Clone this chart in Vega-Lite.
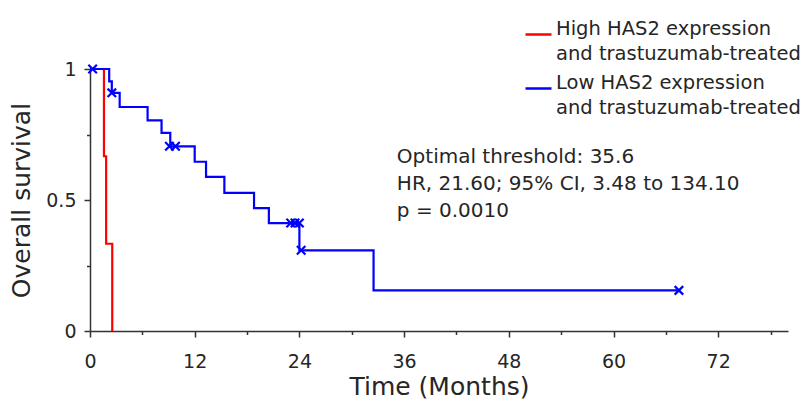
{
  "$schema": "https://vega.github.io/schema/vega-lite/v6.json",
  "width": 698,
  "height": 262,
  "autosize": {"type": "none"},
  "padding": {"left": 90, "top": 69, "right": 18, "bottom": 69},
  "background": "white",
  "config": {
    "view": {"stroke": null},
    "font": "DejaVu Sans",
    "axis": {
      "domainColor": "#333333",
      "tickColor": "#333333",
      "labelColor": "#262626",
      "titleColor": "#262626",
      "labelFont": "DejaVu Sans",
      "titleFont": "DejaVu Sans",
      "labelFontSize": 19,
      "titleFontSize": 25,
      "titleFontWeight": "normal",
      "domainWidth": 1.5,
      "tickWidth": 1.5,
      "grid": false
    },
    "legend": {
      "labelFont": "DejaVu Sans",
      "labelFontSize": 19.5,
      "labelColor": "#262626"
    },
    "style": {"guide-label": {"lineHeight": 25}}
  },
  "datasets": {
    "curves": [
      {"group": "High HAS2 expression and trastuzumab-treated", "time": 0, "survival": 1},
      {"group": "High HAS2 expression and trastuzumab-treated", "time": 1.6, "survival": 0.667},
      {"group": "High HAS2 expression and trastuzumab-treated", "time": 1.85, "survival": 0.333},
      {"group": "High HAS2 expression and trastuzumab-treated", "time": 2.55, "survival": 0},
      {"group": "Low HAS2 expression and trastuzumab-treated", "time": 0, "survival": 1},
      {"group": "Low HAS2 expression and trastuzumab-treated", "time": 2.2, "survival": 0.953},
      {"group": "Low HAS2 expression and trastuzumab-treated", "time": 2.5, "survival": 0.909},
      {"group": "Low HAS2 expression and trastuzumab-treated", "time": 3.4, "survival": 0.855},
      {"group": "Low HAS2 expression and trastuzumab-treated", "time": 6.6, "survival": 0.804},
      {"group": "Low HAS2 expression and trastuzumab-treated", "time": 8.2, "survival": 0.756},
      {"group": "Low HAS2 expression and trastuzumab-treated", "time": 9.2, "survival": 0.705},
      {"group": "Low HAS2 expression and trastuzumab-treated", "time": 12.0, "survival": 0.646},
      {"group": "Low HAS2 expression and trastuzumab-treated", "time": 13.3, "survival": 0.588},
      {"group": "Low HAS2 expression and trastuzumab-treated", "time": 15.4, "survival": 0.527},
      {"group": "Low HAS2 expression and trastuzumab-treated", "time": 18.8, "survival": 0.469},
      {"group": "Low HAS2 expression and trastuzumab-treated", "time": 20.5, "survival": 0.412},
      {"group": "Low HAS2 expression and trastuzumab-treated", "time": 24.0, "survival": 0.308},
      {"group": "Low HAS2 expression and trastuzumab-treated", "time": 32.5, "survival": 0.155},
      {"group": "Low HAS2 expression and trastuzumab-treated", "time": 67.5, "survival": 0.155}
    ],
    "censored": [
      {"group": "Low HAS2 expression and trastuzumab-treated", "time": 0.3, "survival": 1},
      {"group": "Low HAS2 expression and trastuzumab-treated", "time": 2.5, "survival": 0.909},
      {"group": "Low HAS2 expression and trastuzumab-treated", "time": 9.1, "survival": 0.705},
      {"group": "Low HAS2 expression and trastuzumab-treated", "time": 9.8, "survival": 0.705},
      {"group": "Low HAS2 expression and trastuzumab-treated", "time": 23.0, "survival": 0.412},
      {"group": "Low HAS2 expression and trastuzumab-treated", "time": 23.5, "survival": 0.412},
      {"group": "Low HAS2 expression and trastuzumab-treated", "time": 24.0, "survival": 0.412},
      {"group": "Low HAS2 expression and trastuzumab-treated", "time": 24.2, "survival": 0.308},
      {"group": "Low HAS2 expression and trastuzumab-treated", "time": 67.5, "survival": 0.155}
    ],
    "annotation": [
      {"lines": ["Optimal threshold: 35.6", "HR, 21.60; 95% CI, 3.48 to 134.10", "p = 0.0010"]}
    ]
  },
  "layer": [
    {
      "data": {"name": "curves"},
      "mark": {"type": "line", "interpolate": "step-after", "strokeWidth": 2.2, "clip": false},
      "encoding": {
        "x": {
          "field": "time", "type": "quantitative",
          "scale": {"domain": [0, 80], "nice": false, "zero": false},
          "axis": {
            "title": "Time (Months)",
            "values": [0, 6, 12, 18, 24, 30, 36, 42, 48, 54, 60, 66, 72, 78],
            "labelExpr": "datum.value % 12 === 0 ? datum.label : ''",
            "labelFlush": false,
            "tickSize": {"condition": {"test": "datum.value % 12 !== 0", "value": 3.5}, "value": 6},
            "labelPadding": 15,
            "titlePadding": 3
          }
        },
        "y": {
          "field": "survival", "type": "quantitative",
          "scale": {"domain": [0, 1], "nice": false},
          "axis": {
            "title": "Overall survival",
            "values": [0, 0.25, 0.5, 0.75, 1],
            "labelExpr": "datum.value === 0 ? '0' : datum.value === 0.5 ? '0.5' : datum.value === 1 ? '1' : ''",
            "tickSize": {"condition": {"test": "datum.value === 0.25 || datum.value === 0.75", "value": 3.5}, "value": 6},
            "labelPadding": 8,
            "titlePadding": 11
          }
        },
        "color": {
          "field": "group", "type": "nominal",
          "scale": {
            "domain": ["High HAS2 expression and trastuzumab-treated", "Low HAS2 expression and trastuzumab-treated"],
            "range": ["#ff0000", "#0000ff"]
          },
          "legend": {
            "title": null,
            "orient": "none",
            "legendX": 434,
            "legendY": -49,
            "symbolType": "stroke",
            "symbolSize": 676,
            "symbolStrokeWidth": 2.5,
            "labelOffset": 3,
            "labelLimit": 400,
            "labelBaseline": "alphabetic",
            "rowPadding": 9,
            "labelExpr": "[slice(datum.label, 0, indexof(datum.label, ' and')), slice(datum.label, indexof(datum.label, ' and') + 1)]"
          }
        }
      }
    },
    {
      "data": {"name": "censored"},
      "mark": {
        "type": "point",
        "shape": "M-1,-1L1,1M1,-1L-1,1",
        "filled": false,
        "size": 72,
        "strokeWidth": 2.2,
        "opacity": 1,
        "clip": false
      },
      "encoding": {
        "x": {"field": "time", "type": "quantitative"},
        "y": {"field": "survival", "type": "quantitative"},
        "color": {"field": "group", "type": "nominal", "legend": null}
      }
    },
    {
      "data": {"name": "annotation"},
      "mark": {
        "type": "text",
        "align": "left",
        "baseline": "alphabetic",
        "fontSize": 20,
        "lineHeight": 27,
        "color": "#262626",
        "font": "DejaVu Sans"
      },
      "encoding": {
        "text": {"field": "lines"},
        "x": {"datum": 35.17, "type": "quantitative"},
        "y": {"datum": 0.642, "type": "quantitative"}
      }
    }
  ]
}
